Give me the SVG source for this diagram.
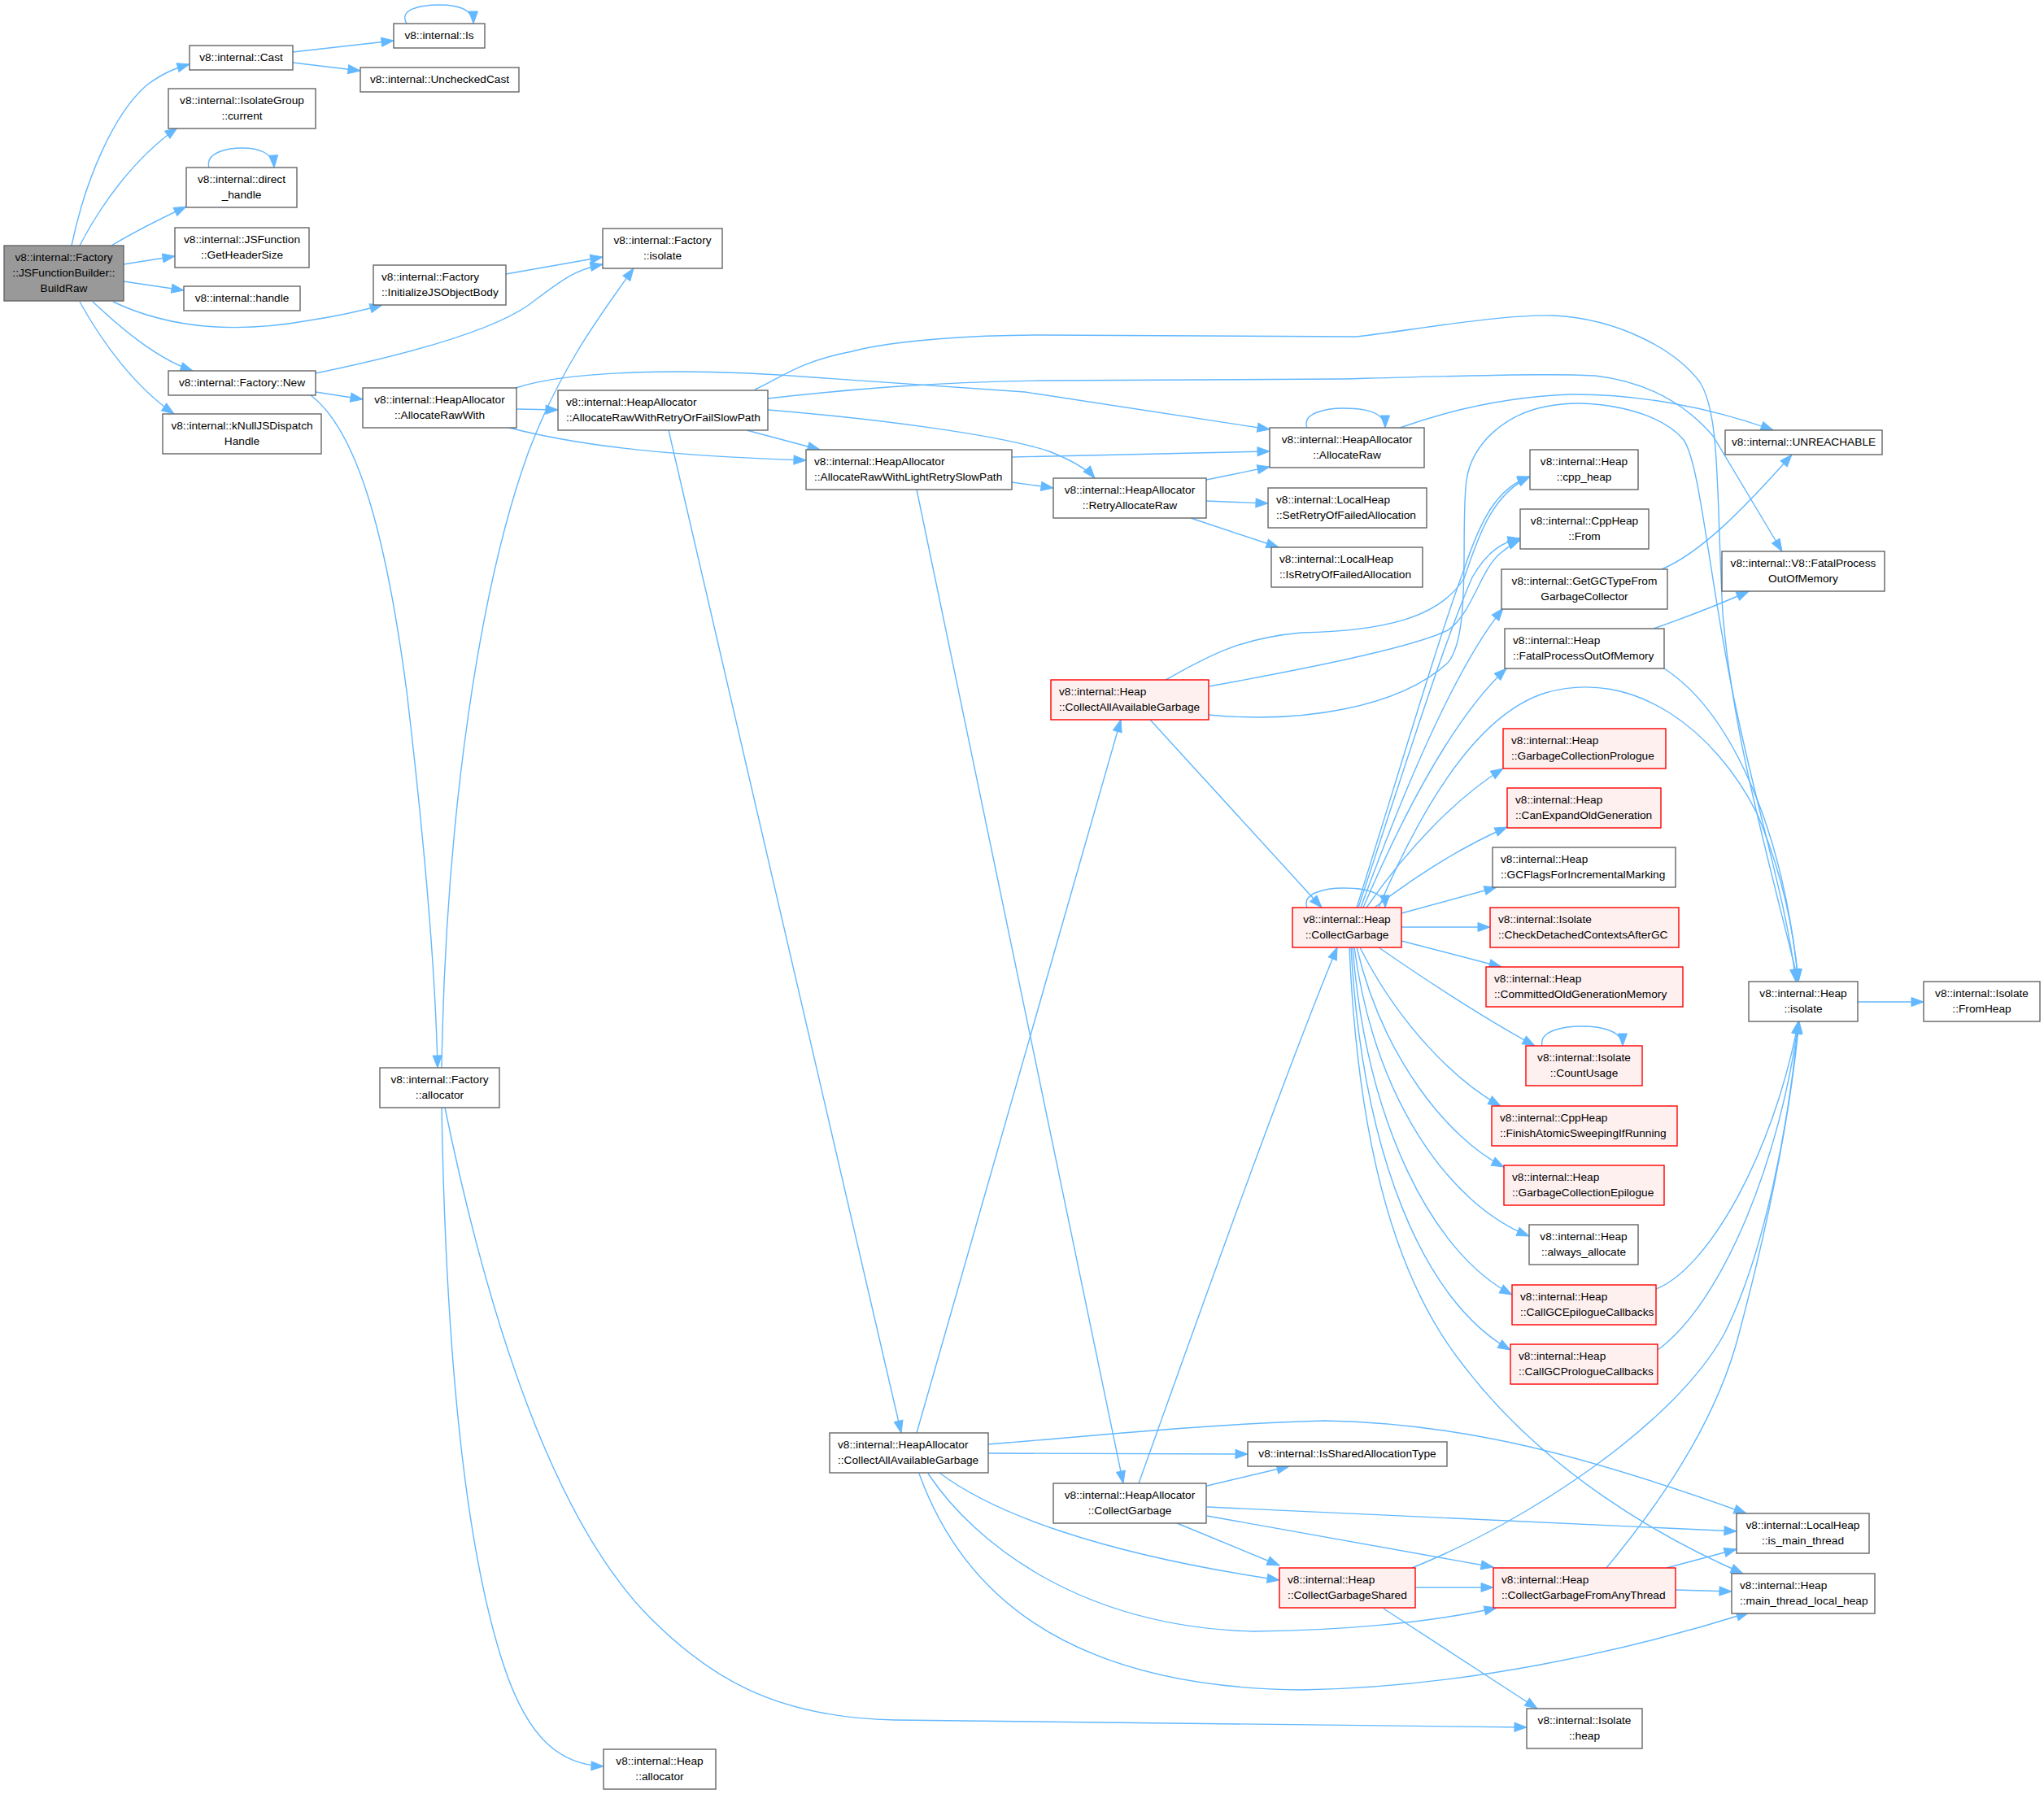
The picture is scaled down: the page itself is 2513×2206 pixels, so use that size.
<svg xmlns="http://www.w3.org/2000/svg" width="2513" height="2206" viewBox="0 0 2513 2206">
<defs>
<style>
.n rect{fill:#ffffff;stroke:#666666;stroke-width:1.4}
.r rect{fill:#fff0f0;stroke:#ff0000;stroke-width:1.4}
.root rect{fill:#999999;stroke:#666666;stroke-width:1.4}
text{font-family:"Liberation Sans",Arial,sans-serif;font-size:13.7px;fill:#000000}
.m{text-anchor:middle}
#edges path{fill:none;stroke:#63b8ff;stroke-width:1.4;marker-end:url(#a)}
</style>
<marker id="a" markerUnits="userSpaceOnUse" markerWidth="16" markerHeight="12" refX="15" refY="5.5" orient="auto" overflow="visible">
<path d="M0,0 L15,5.5 L0,11 Z" fill="#63b8ff" stroke="#63b8ff" stroke-width="1"/>
</marker>
</defs>
<rect x="0" y="0" width="2513" height="2206" fill="#ffffff"/>
<g id="edges">
<path d="M88,302 C105,220 140,140 180,105 C200,90 215,84 233,79"/>
<path d="M98,302 C125,250 165,195 218,157"/>
<path d="M137,302 C165,285 195,270 229,254"/>
<path d="M152,325 L215,315"/>
<path d="M152,346 L226,357"/>
<path d="M139,371 C200,400 280,412 380,394 C420,388 445,382 470,375"/>
<path d="M114,371 C145,400 190,440 237,456"/>
<path d="M98,371 C125,420 165,475 214,509"/>
<path d="M360,64 L484,50"/>
<path d="M360,77 L443,87"/>
<path d="M500,29 C490,12 515,6 540,6 C565,6 582,12 582,29"/>
<path d="M257,206 C252,188 278,182 298,182 C318,182 336,188 337,206"/>
<path d="M622,337 L741,316"/>
<path d="M388,459 C480,440 600,410 650,375 C690,345 705,332 741,325"/>
<path d="M388,482 L446,491"/>
<path d="M382,486 C440,530 475,660 500,850 C520,1020 535,1180 538,1313"/>
<path d="M543,1313 C548,1000 590,720 650,555 C690,450 740,385 779,330"/>
<path d="M543,1362 C548,1650 570,1900 620,2050 C650,2140 690,2170 742,2172"/>
<path d="M547,1362 C600,1620 680,1870 800,1990 C870,2060 950,2112 1100,2115 L1877,2124"/>
<path d="M635,503 L686,504"/>
<path d="M634,477 C700,455 850,452 1000,464 L1260,482 L1561,528"/>
<path d="M626,526 C700,545 800,560 991,566"/>
<path d="M928,479 C960,465 980,445 1048,432 C1100,418 1200,412 1280,412 L1668,414 C1750,404 1850,386 1910,388 C1990,392 2060,430 2090,470 C2115,510 2110,600 2118,754 C2130,900 2170,1040 2211,1207"/>
<path d="M944,490 C1050,478 1150,470 1280,468 L1652,466 C1800,462 1900,459 1961,462 C2030,470 2075,500 2106,536 L2191,678"/>
<path d="M918,529 L1008,553"/>
<path d="M944,504 C1080,515 1230,535 1290,555 C1315,565 1335,575 1346,588"/>
<path d="M822,529 L1108,1762"/>
<path d="M1244,562 L1561,555"/>
<path d="M1244,593 L1295,600"/>
<path d="M1127,602 L1381,1824"/>
<path d="M1483,590 L1561,574"/>
<path d="M1483,616 L1559,619"/>
<path d="M1464,637 L1572,673"/>
<path d="M1607,526 C1600,508 1630,502 1652,502 C1680,502 1703,508 1703,526"/>
<path d="M1721,526 C1780,505 1850,488 1930,485 C2010,484 2100,500 2180,529"/>
<path d="M1433,836 C1480,810 1520,785 1600,778 C1700,776 1770,760 1800,711 C1815,670 1830,610 1881,586"/>
<path d="M1486,844 C1620,820 1740,795 1780,775 C1810,755 1820,700 1845,680 C1855,672 1862,667 1869,664"/>
<path d="M1486,879 C1600,890 1720,870 1780,815 C1810,780 1795,650 1803,590 C1810,545 1850,510 1900,500 C1960,488 2040,505 2070,541 C2090,570 2100,700 2130,850 C2160,1000 2195,1100 2208,1207"/>
<path d="M1414,885 L1625,1116"/>
<path d="M1127,1762 L1378,885"/>
<path d="M1400,1824 C1480,1600 1580,1320 1644,1165"/>
<path d="M1215,1787 L1534,1788"/>
<path d="M1215,1776 C1350,1765 1500,1750 1629,1747 C1800,1750 1950,1790 2147,1861"/>
<path d="M1155,1811 C1220,1860 1350,1910 1573,1943"/>
<path d="M1141,1812 C1200,1900 1330,2000 1540,2006 C1650,2005 1760,1995 1840,1977"/>
<path d="M1130,1812 C1180,1950 1300,2075 1600,2078 C1800,2075 2000,2030 2150,1983"/>
<path d="M1484,1827 L1585,1803"/>
<path d="M1484,1853 L2135,1883"/>
<path d="M1484,1864 L1836,1927"/>
<path d="M1447,1873 L1573,1925"/>
<path d="M1740,1952 L1836,1952"/>
<path d="M1736,1928 C1880,1870 2060,1750 2120,1640 C2170,1540 2200,1380 2211,1256"/>
<path d="M1701,1978 L1890,2101"/>
<path d="M2049,1928 L2135,1905"/>
<path d="M2060,1955 L2129,1957"/>
<path d="M1975,1928 C2040,1850 2110,1750 2138,1640 C2170,1520 2200,1380 2212,1256"/>
<path d="M2284,1232 L2365,1232"/>
<path d="M2043,700 C2090,680 2140,630 2203,559"/>
<path d="M2033,773 C2070,760 2110,745 2150,727"/>
<path d="M2046,822 C2120,870 2190,1000 2211,1207"/>
<path d="M2036,1585 C2100,1560 2180,1420 2211,1256"/>
<path d="M2038,1660 C2120,1600 2190,1420 2211,1256"/>
<path d="M1607,1116 C1600,1098 1630,1092 1652,1092 C1680,1092 1703,1098 1703,1116"/>
<path d="M1668,1116 C1720,950 1770,780 1800,700 C1820,640 1840,600 1881,586"/>
<path d="M1670,1116 C1725,950 1775,790 1810,710 C1830,675 1850,666 1869,662"/>
<path d="M1673,1116 C1730,960 1790,820 1848,748"/>
<path d="M1676,1116 C1730,990 1790,880 1852,822"/>
<path d="M1680,1116 C1740,1030 1800,975 1848,945"/>
<path d="M1690,1116 C1750,1070 1800,1040 1853,1017"/>
<path d="M1723,1123 L1840,1091"/>
<path d="M1695,1116 C1740,1010 1810,880 1900,852 C2010,820 2110,900 2160,1000 C2190,1070 2205,1140 2211,1207"/>
<path d="M1723,1140 L1832,1140"/>
<path d="M1723,1157 L1846,1189"/>
<path d="M1695,1165 C1760,1210 1830,1255 1887,1286"/>
<path d="M1672,1165 C1720,1260 1790,1330 1845,1360"/>
<path d="M1668,1165 C1700,1300 1780,1400 1849,1435"/>
<path d="M1665,1165 C1690,1350 1780,1480 1880,1520"/>
<path d="M1663,1165 C1680,1380 1760,1540 1859,1592"/>
<path d="M1661,1165 C1675,1420 1750,1600 1857,1660"/>
<path d="M1659,1165 C1670,1420 1720,1580 1800,1680 C1900,1810 2040,1890 2143,1935"/>
<path d="M1896,1286 C1892,1268 1920,1262 1945,1262 C1970,1262 1995,1268 1995,1286"/>
</g>
<g id="n0" class="root"><rect x="5" y="302" width="147" height="68"/><text class="m" x="78.5" y="320.5">v8::internal::Factory</text><text class="m" x="78.5" y="339.5">::JSFunctionBuilder::</text><text class="m" x="78.5" y="358.5">BuildRaw</text></g>
<g id="n1" class="n"><rect x="233" y="56" width="127" height="30"/><text class="m" x="296.5" y="75">v8::internal::Cast</text></g>
<g id="n2" class="n"><rect x="484" y="29" width="112" height="30"/><text class="m" x="540" y="48">v8::internal::Is</text></g>
<g id="n3" class="n"><rect x="443" y="83" width="195" height="30"/><text class="m" x="540.5" y="102">v8::internal::UncheckedCast</text></g>
<g id="n4" class="n"><rect x="207" y="109" width="181" height="49"/><text class="m" x="297.5" y="127.5">v8::internal::IsolateGroup</text><text class="m" x="297.5" y="146.5">::current</text></g>
<g id="n5" class="n"><rect x="229" y="206" width="136" height="49"/><text class="m" x="297" y="224.5">v8::internal::direct</text><text class="m" x="297" y="243.5">_handle</text></g>
<g id="n6" class="n"><rect x="215" y="280" width="165" height="49"/><text class="m" x="297.5" y="298.5">v8::internal::JSFunction</text><text class="m" x="297.5" y="317.5">::GetHeaderSize</text></g>
<g id="n7" class="n"><rect x="226" y="352" width="143" height="30"/><text class="m" x="297.5" y="371">v8::internal::handle</text></g>
<g id="n8" class="n"><rect x="459" y="326" width="163" height="49"/><text x="469" y="344.5">v8::internal::Factory</text><text x="469" y="363.5">::InitializeJSObjectBody</text></g>
<g id="n9" class="n"><rect x="207" y="456" width="181" height="30"/><text class="m" x="297.5" y="475">v8::internal::Factory::New</text></g>
<g id="n10" class="n"><rect x="446" y="477" width="189" height="49"/><text class="m" x="540.5" y="495.5">v8::internal::HeapAllocator</text><text class="m" x="540.5" y="514.5">::AllocateRawWith</text></g>
<g id="n11" class="n"><rect x="200" y="509" width="195" height="49"/><text class="m" x="297.5" y="527.5">v8::internal::kNullJSDispatch</text><text class="m" x="297.5" y="546.5">Handle</text></g>
<g id="n12" class="n"><rect x="741" y="281" width="147" height="49"/><text class="m" x="814.5" y="299.5">v8::internal::Factory</text><text class="m" x="814.5" y="318.5">::isolate</text></g>
<g id="n13" class="n"><rect x="686" y="480" width="258" height="49"/><text x="696" y="498.5">v8::internal::HeapAllocator</text><text x="696" y="517.5">::AllocateRawWithRetryOrFailSlowPath</text></g>
<g id="n14" class="n"><rect x="991" y="553" width="253" height="49"/><text x="1001" y="571.5">v8::internal::HeapAllocator</text><text x="1001" y="590.5">::AllocateRawWithLightRetrySlowPath</text></g>
<g id="n15" class="n"><rect x="1561" y="526" width="190" height="49"/><text class="m" x="1656" y="544.5">v8::internal::HeapAllocator</text><text class="m" x="1656" y="563.5">::AllocateRaw</text></g>
<g id="n16" class="n"><rect x="1295" y="588" width="188" height="49"/><text class="m" x="1389" y="606.5">v8::internal::HeapAllocator</text><text class="m" x="1389" y="625.5">::RetryAllocateRaw</text></g>
<g id="n17" class="n"><rect x="1559" y="600" width="195" height="49"/><text x="1569" y="618.5">v8::internal::LocalHeap</text><text x="1569" y="637.5">::SetRetryOfFailedAllocation</text></g>
<g id="n18" class="n"><rect x="1563" y="673" width="186" height="49"/><text x="1573" y="691.5">v8::internal::LocalHeap</text><text x="1573" y="710.5">::IsRetryOfFailedAllocation</text></g>
<g id="n19" class="n"><rect x="2121" y="529" width="193" height="30"/><text class="m" x="2217.5" y="548">v8::internal::UNREACHABLE</text></g>
<g id="n20" class="n"><rect x="1881" y="553" width="133" height="49"/><text class="m" x="1947.5" y="571.5">v8::internal::Heap</text><text class="m" x="1947.5" y="590.5">::cpp_heap</text></g>
<g id="n21" class="n"><rect x="1869" y="626" width="158" height="49"/><text class="m" x="1948" y="644.5">v8::internal::CppHeap</text><text class="m" x="1948" y="663.5">::From</text></g>
<g id="n22" class="n"><rect x="1846" y="700" width="204" height="49"/><text class="m" x="1948" y="718.5">v8::internal::GetGCTypeFrom</text><text class="m" x="1948" y="737.5">GarbageCollector</text></g>
<g id="n23" class="n"><rect x="2117" y="678" width="200" height="49"/><text class="m" x="2217" y="696.5">v8::internal::V8::FatalProcess</text><text class="m" x="2217" y="715.5">OutOfMemory</text></g>
<g id="n24" class="n"><rect x="1850" y="773" width="196" height="49"/><text x="1860" y="791.5">v8::internal::Heap</text><text x="1860" y="810.5">::FatalProcessOutOfMemory</text></g>
<g id="n25" class="r"><rect x="1848" y="896" width="200" height="49"/><text x="1858" y="914.5">v8::internal::Heap</text><text x="1858" y="933.5">::GarbageCollectionPrologue</text></g>
<g id="n26" class="r"><rect x="1853" y="969" width="189" height="49"/><text x="1863" y="987.5">v8::internal::Heap</text><text x="1863" y="1006.5">::CanExpandOldGeneration</text></g>
<g id="n27" class="n"><rect x="1835" y="1042" width="225" height="49"/><text x="1845" y="1060.5">v8::internal::Heap</text><text x="1845" y="1079.5">::GCFlagsForIncrementalMarking</text></g>
<g id="n28" class="r"><rect x="1292" y="836" width="194" height="49"/><text x="1302" y="854.5">v8::internal::Heap</text><text x="1302" y="873.5">::CollectAllAvailableGarbage</text></g>
<g id="n29" class="r"><rect x="1589" y="1116" width="134" height="49"/><text class="m" x="1656" y="1134.5">v8::internal::Heap</text><text class="m" x="1656" y="1153.5">::CollectGarbage</text></g>
<g id="n30" class="r"><rect x="1832" y="1116" width="232" height="49"/><text x="1842" y="1134.5">v8::internal::Isolate</text><text x="1842" y="1153.5">::CheckDetachedContextsAfterGC</text></g>
<g id="n31" class="r"><rect x="1827" y="1189" width="242" height="49"/><text x="1837" y="1207.5">v8::internal::Heap</text><text x="1837" y="1226.5">::CommittedOldGenerationMemory</text></g>
<g id="n32" class="r"><rect x="1876" y="1286" width="143" height="49"/><text class="m" x="1947.5" y="1304.5">v8::internal::Isolate</text><text class="m" x="1947.5" y="1323.5">::CountUsage</text></g>
<g id="n33" class="r"><rect x="1834" y="1360" width="228" height="49"/><text x="1844" y="1378.5">v8::internal::CppHeap</text><text x="1844" y="1397.5">::FinishAtomicSweepingIfRunning</text></g>
<g id="n34" class="r"><rect x="1849" y="1433" width="197" height="49"/><text x="1859" y="1451.5">v8::internal::Heap</text><text x="1859" y="1470.5">::GarbageCollectionEpilogue</text></g>
<g id="n35" class="n"><rect x="1880" y="1506" width="134" height="49"/><text class="m" x="1947" y="1524.5">v8::internal::Heap</text><text class="m" x="1947" y="1543.5">::always_allocate</text></g>
<g id="n36" class="r"><rect x="1859" y="1580" width="177" height="49"/><text x="1869" y="1598.5">v8::internal::Heap</text><text x="1869" y="1617.5">::CallGCEpilogueCallbacks</text></g>
<g id="n37" class="r"><rect x="1857" y="1653" width="181" height="49"/><text x="1867" y="1671.5">v8::internal::Heap</text><text x="1867" y="1690.5">::CallGCPrologueCallbacks</text></g>
<g id="n38" class="n"><rect x="2150" y="1207" width="134" height="49"/><text class="m" x="2217" y="1225.5">v8::internal::Heap</text><text class="m" x="2217" y="1244.5">::isolate</text></g>
<g id="n39" class="n"><rect x="2365" y="1207" width="143" height="49"/><text class="m" x="2436.5" y="1225.5">v8::internal::Isolate</text><text class="m" x="2436.5" y="1244.5">::FromHeap</text></g>
<g id="n40" class="n"><rect x="1020" y="1762" width="195" height="49"/><text x="1030" y="1780.5">v8::internal::HeapAllocator</text><text x="1030" y="1799.5">::CollectAllAvailableGarbage</text></g>
<g id="n41" class="n"><rect x="1295" y="1824" width="188" height="49"/><text class="m" x="1389" y="1842.5">v8::internal::HeapAllocator</text><text class="m" x="1389" y="1861.5">::CollectGarbage</text></g>
<g id="n42" class="n"><rect x="1534" y="1773" width="245" height="30"/><text class="m" x="1656.5" y="1792">v8::internal::IsSharedAllocationType</text></g>
<g id="n43" class="n"><rect x="2135" y="1861" width="163" height="49"/><text class="m" x="2216.5" y="1879.5">v8::internal::LocalHeap</text><text class="m" x="2216.5" y="1898.5">::is_main_thread</text></g>
<g id="n44" class="n"><rect x="2129" y="1935" width="176" height="49"/><text x="2139" y="1953.5">v8::internal::Heap</text><text x="2139" y="1972.5">::main_thread_local_heap</text></g>
<g id="n45" class="r"><rect x="1573" y="1928" width="167" height="49"/><text x="1583" y="1946.5">v8::internal::Heap</text><text x="1583" y="1965.5">::CollectGarbageShared</text></g>
<g id="n46" class="r"><rect x="1836" y="1928" width="224" height="49"/><text x="1846" y="1946.5">v8::internal::Heap</text><text x="1846" y="1965.5">::CollectGarbageFromAnyThread</text></g>
<g id="n47" class="n"><rect x="1877" y="2101" width="142" height="49"/><text class="m" x="1948" y="2119.5">v8::internal::Isolate</text><text class="m" x="1948" y="2138.5">::heap</text></g>
<g id="n48" class="n"><rect x="467" y="1313" width="147" height="49"/><text class="m" x="540.5" y="1331.5">v8::internal::Factory</text><text class="m" x="540.5" y="1350.5">::allocator</text></g>
<g id="n49" class="n"><rect x="742" y="2151" width="138" height="49"/><text class="m" x="811" y="2169.5">v8::internal::Heap</text><text class="m" x="811" y="2188.5">::allocator</text></g>
</svg>
